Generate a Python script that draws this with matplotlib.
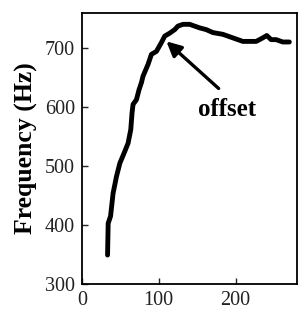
import matplotlib.pyplot as plt

# traced curve (time vs frequency)
time = [33.4, 34.2, 37.3, 40.6, 45.1, 49.4, 55.8, 60.1, 63.6, 65.3, 66.6,
        71.0, 74.4, 77.5, 79.6, 86.1, 90.5, 97.0, 103.5, 107.8, 114.3,
        120.8, 125.0, 131.6, 136.0, 140.3, 144.6, 153.2, 161.9, 170.5,
        183.5, 196.5, 209.5, 226.9, 235.5, 240.6, 246.3, 252.8, 261.5, 270.0]
freq = [349, 403, 415, 454, 483, 505, 525, 539, 562, 591, 605,
        613, 630, 642, 653, 673, 690, 695, 710, 721, 726,
        732, 738, 741, 741, 741, 739, 735, 732, 727,
        724, 718, 712, 712, 718, 722, 715, 715, 711, 711]

xticks = [0, 100, 200]
yticks = [300, 400, 500, 600, 700]

plt.rcParams['font.family'] = ['Liberation Serif', 'DejaVu Serif']

fig = plt.figure(figsize=(3.0, 3.13), dpi=100)
ax = fig.add_axes([0.273, 0.093, 0.717, 0.865])

ax.plot(time, freq, color='black', linewidth=3.5, solid_capstyle='round',
        solid_joinstyle='round')

ax.set_xlim(0, 280)
ax.set_ylim(300, 760)
ax.set_xticks(xticks)
ax.set_yticks(yticks)
ax.tick_params(direction='in', labelsize=14.5, length=4, width=1,
               colors='#222222', pad=5)
for s in ax.spines.values():
    s.set_linewidth(1.3)

ax.set_ylabel('Frequency (Hz)', fontsize=18.5, fontweight='bold', labelpad=5)

ax.text(189, 596, 'offset', fontsize=18, fontweight='bold',
        ha='center', va='center')
ax.annotate('', xy=(110, 712), xytext=(178, 632),
            arrowprops=dict(arrowstyle='-|>', color='black', lw=2.4,
                            mutation_scale=22, shrinkA=0, shrinkB=0))

fig.savefig('out.png', dpi=100)
